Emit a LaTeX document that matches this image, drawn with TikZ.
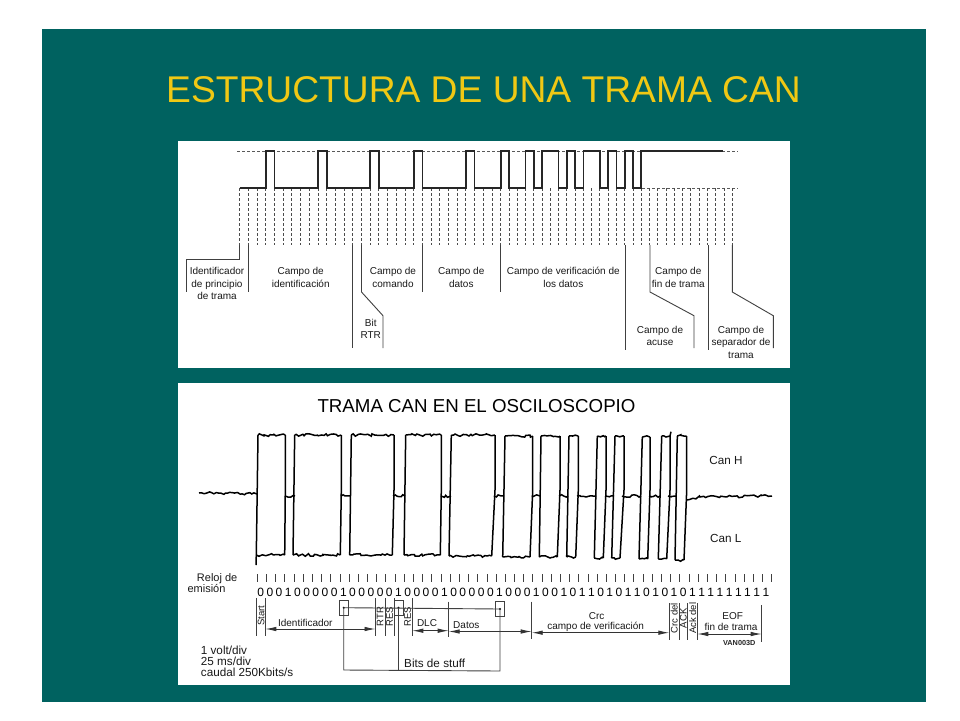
\documentclass[tikz,border=0pt]{standalone}
\usepackage{fontspec}
\setmainfont{Liberation Sans}
\usetikzlibrary{arrows.meta,decorations.pathmorphing}
\definecolor{fondo}{RGB}{0,98,96}
\definecolor{amarillo}{RGB}{240,200,20}
\tikzset{
    lbl/.style={inner sep=0pt, align=center, text=black!90, font=\fontsize{10}{12.5}\selectfont},
    lblb/.style={inner sep=0pt, align=center, text=black!90, font=\fontsize{11.7}{13}\selectfont},
    lblv/.style={inner sep=0pt, text=black!90, font=\fontsize{9.5}{10}\selectfont, rotate=90},
    signal/.style={line width=1.7pt, black!85, line join=miter},
    tick/.style={line width=0.9pt, black!70, dash pattern=on 3pt off 2pt},
    nivel/.style={line width=0.8pt, black!65, dash pattern=on 3pt off 2pt},
    guia/.style={line width=0.9pt, black!75},
    trace/.style={line width=1.5pt, black},
    noisy/.style={line width=1.5pt, black, decorate, decoration={random steps, segment length=2.4pt, amplitude=1.3pt}},
    flecha/.style={line width=0.9pt, black!80, {Latex[length=11pt,width=4.5pt]}-{Latex[length=11pt,width=4.5pt]}},
}
\begin{document}
\begin{tikzpicture}[x=1pt, y=-1pt]
    \useasboundingbox (0,0) rectangle (960,720);
    \fill[white] (0,0) rectangle (960,720);
    \fill[fondo] (42,29) rectangle (926,702);
    \node[text=amarillo, inner sep=0pt, font=\fontsize{37.2}{40}\selectfont] (titulo) at (483.5,90) {ESTRUCTURA DE UNA TRAMA CAN};
    \fill[white] (178,141) rectangle (790,368);
    \fill[white] (178,383) rectangle (790,685);

    \draw[nivel] (237.3,151) -- (738,151);
    \draw[nivel] (642,188) -- (738,188);
    \foreach \i in {0,...,30} \draw[tick] ({239.7+8.7*\i},188) -- +(0,57);
    \foreach \i in {1,...,28} \draw[tick] ({500.7+8.27*\i},188) -- +(0,57);
    \draw[signal] (239.7,188) -- (265.8,188) -- (265.8,151) -- (274.5,151) -- (274.5,188) -- (318,188) -- (318,151) -- (326.7,151) -- (326.7,188) -- (370.2,188) -- (370.2,151) -- (378.9,151) -- (378.9,188) -- (413.7,188) -- (413.7,151) -- (422.4,151) -- (422.4,188) -- (465.9,188) -- (465.9,151) -- (474.6,151) -- (474.6,188) -- (500.7,188) -- (500.7,151) -- (509,151) -- (509,188) -- (525.5,188) -- (525.5,151) -- (533.8,151) -- (533.8,188) -- (542,188) -- (542,151) -- (558.6,151) -- (558.6,188) -- (566.9,188) -- (566.9,151) -- (575.2,151) -- (575.2,188) -- (583.4,188) -- (583.4,151) -- (600,151) -- (600,188) -- (608.3,188) -- (608.3,151) -- (616.5,151) -- (616.5,188) -- (624.8,188) -- (624.8,151) -- (633,151) -- (633,188) -- (641.3,188) -- (641.3,151) -- (723,151);

    \draw[guia] (239.7,245) -- (239.7,259) -- (186,259) -- (186,292);
    \draw[guia] (248.4,245) -- (248.4,292);
    \draw[guia] (352.8,245) -- (352.8,348);
    \draw[guia] (361.5,245) -- (361.5,292) -- (383,315.7) -- (383,348);
    \draw[guia] (422.4,245) -- (422.4,292);
    \draw[guia] (500.7,245) -- (500.7,292);
    \draw[guia] (625.7,245) -- (625.7,350);
    \draw[guia] (650,245) -- (650,292) -- (694,315.7) -- (694,348);
    \draw[guia] (708,245) -- (708,350);
    \draw[guia] (732.3,245) -- (732.3,292) -- (773.3,315.7) -- (773.3,348);

    \node[lbl] (principio) at (217,283.5) {Identificador\\de principio\\de trama};
    \node[lbl] (identificacion) at (300.7,277.3) {Campo de\\identificación};
    \node[lbl] (comando) at (393,277.3) {Campo de\\comando};
    \node[lbl] (datos) at (461.3,277.3) {Campo de\\datos};
    \node[lbl] (verificacion) at (563.3,277.3) {Campo de verificación de\\los datos};
    \node[lbl] (fintrama) at (678.3,277.3) {Campo de\\fin de trama};
    \node[lbl] (rtr) at (370.7,329) {Bit\\RTR};
    \node[lbl] (acuse) at (660,335.8) {Campo de\\acuse};
    \node[lbl] (separador) at (741,342) {Campo de\\separador de\\trama};

    \node[inner sep=0pt, font=\fontsize{18.7}{20}\selectfont] (osciloscopio) at (476.5,406) {TRAMA CAN EN EL OSCILOSCOPIO};

    \pgfmathsetseed{7}
    \draw[noisy] (199,493) -- (257,494);
    \foreach \a/\b in {285/295, 341/351, 393/405, 441/451, 494/504, 532/540, 559/568, 577/596, 605/614, 622/641, 649/660, 668/676}
        \draw[noisy] (\a,496) -- (\b,496);
    \draw[noisy] (687,500) -- (700,497) -- (772,496);
    \foreach \la/\ha/\hb/\lb/\yh/\yl in {256.3/258/285.3/284.7/435/555, 293/294.7/341.3/340.3/435/555, 349.7/351.3/394/392.3/435/555, 404/405.7/441.3/440.3/435/555, 449/451.3/495/491.7/435/556, 502.7/505/532.7/530/436/557, 539.3/541/560/557.3/436/557, 566.7/569/578.3/575.7/436/557, 594.3/597.3/606/603.3/436/558, 611.7/615/624/620/436/558, 639/642.3/650/647.7/437/559, 658.3/661.7/670/666.7/436/559, 675/677.3/686.7/684/436/560}{
        \draw[trace] (\la,\yl) -- (\ha,\yh);
        \draw[trace] (\hb,\yh) -- (\hb,490) -- (\lb,\yl);
        \draw[noisy] (\ha,\yh) -- (\hb,\yh);
        \draw[noisy] (\la,\yl) -- (\lb,\yl);
    }
    \draw[trace] (256.3,555) -- (256,565);
    \draw[trace] (670,436) -- (671,431.7);
    \node[lblb] (canh) at (726,460) {Can H};
    \node[lblb] (canl) at (725.7,538) {Can L};

    \node[lblb, font=\fontsize{11}{12}\selectfont, anchor=east] (reloj) at (237.5,579) {Reloj de};
    \node[lblb, font=\fontsize{11}{12}\selectfont] (emision) at (206.5,588.5) {emisión};
    \foreach \i in {0,...,56} \draw[line width=0.9pt, black!75] ({257.3+9.186*\i},574.3) -- +(0,7.4);
    \foreach \b [count=\n from 0] in {0,0,0,1,0,0,0,0,0,1,0,0,0,0,0,1,0,0,0,0,1,0,0,0,0,0,1,0,0,0,1,0,0,1,0,1,1,0,1,0,1,1,0,1,0,1,0,1,1,1,1,1,1,1,1,1}
        \node[inner sep=0pt, text=black, font=\fontsize{12}{12}\selectfont] at ({260.7+9.186*\n},592) {\b};

    \foreach \x/\ya/\yb in {256.3/598.3/635.7, 265.3/598.3/635.7, 375.5/598.3/635.7, 385/598.3/635.7, 394/598.3/635.7, 412.3/598.3/635.7, 448.7/601.7/637, 531.7/601.7/639, 669.3/603/640, 679/603/640, 687.7/603/640, 697.3/603/640, 761.7/605/641.7}
        \draw[guia] (\x,\ya) -- (\x,\yb);
    \draw[flecha] (265.3,629) -- (375.5,629);
    \draw[flecha] (412.3,630.7) -- (448.7,630.7);
    \draw[flecha] (448.7,631.5) -- (531.7,631.5);
    \draw[flecha] (531.7,632.7) -- (669.3,632.7);
    \draw[flecha] (697.3,634) -- (761.7,634);

    \node[lblv] (start) at (261,615.7) {Start};
    \node[lbl] (identificador) at (305.3,623) {Identificador};
    \node[lblv] (rtrb) at (380,616.7) {RTR};
    \node[lblv] (resa) at (389.5,616.7) {RES};
    \node[lblv] (resb) at (407.5,616.7) {RES};
    \node[lbl] (dlc) at (427,623.5) {DLC};
    \node[lbl] (datosb) at (466.3,625) {Datos};
    \node[lbl] (crc) at (596.7,616.5) {Crc};
    \node[lbl] (campov) at (595.7,627) {campo de verificación};
    \node[lblv] (crcdel) at (674.3,618.3) {Crc del};
    \node[lblv] (ack) at (683.3,618.3) {ACK};
    \node[lblv] (ackdel) at (692.7,618.3) {Ack del};
    \node[lbl] (eof) at (732.7,616.5) {EOF};
    \node[lbl] (fin) at (731,626.7) {fin de trama};
    \node[inner sep=0pt, text=black!85, font=\bfseries\fontsize{7.3}{8}\selectfont] (van) at (739.3,642.7) {VAN003D};

    \draw[guia] (339.3,600.3) rectangle (348,615);
    \draw[guia] (394.3,600.3) rectangle (403.3,615.6);
    \draw[guia] (495.3,601.7) rectangle (504.7,616.7);
    \fill[black] (343.7,607.7) circle (1.1pt);
    \fill[black] (398.5,607.7) circle (1.1pt);
    \fill[black] (500,609) circle (1.1pt);
    \draw[guia] (343.7,607.7) -- (500,609) -- (500,671) -- (343.7,670) -- cycle;
    \draw[guia] (398.5,607.7) -- (398.5,670);
    \node[lblb] (stuff) at (434.7,663.7) {Bits de stuff};

    \node[lblb, anchor=west] (volt) at (200.7,650.7) {1 volt/div};
    \node[lblb, anchor=west] (ms) at (200.7,661) {25 ms/div};
    \node[lblb, anchor=west] (caudal) at (200.7,672) {caudal 250Kbits/s};
\end{tikzpicture}
\end{document}
